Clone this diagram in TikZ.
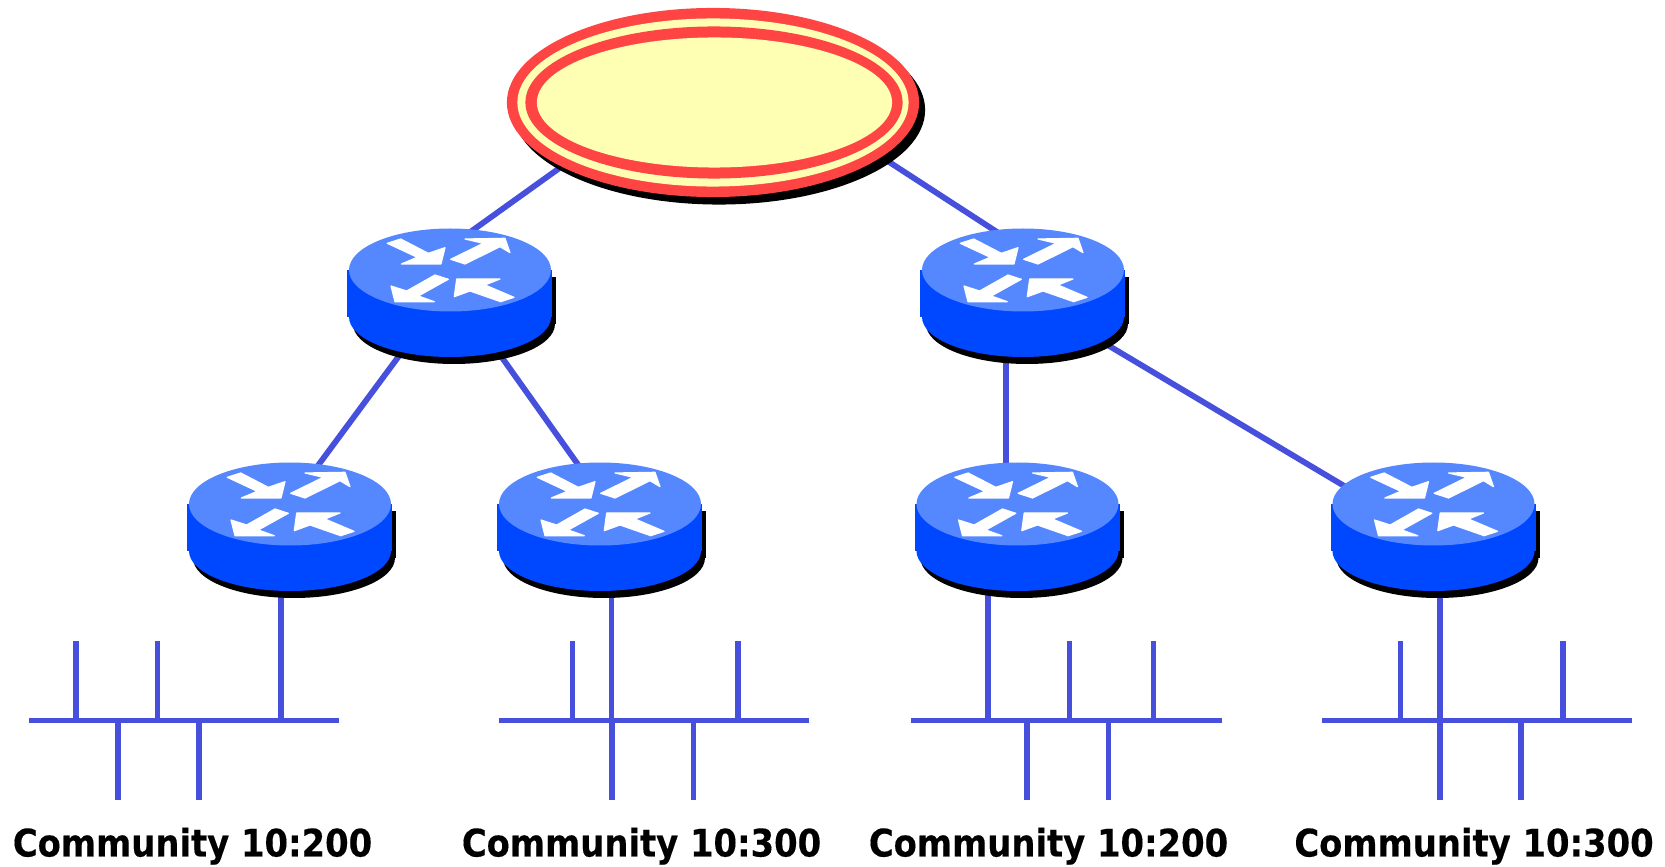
\documentclass[tikz,border=0pt]{standalone}
\usepackage{fontspec}
\setmainfont{DejaVu Sans}
\newfontfamily\labelfont{DejaVu Sans Bold}[FakeStretch=0.89,FakeBold=0.3]
\usetikzlibrary{shapes.geometric, backgrounds}

\definecolor{linkblue}{HTML}{4650DC}
\definecolor{routertop}{HTML}{5588FF}
\definecolor{routerside}{HTML}{0048FF}
\definecolor{corered}{HTML}{FF4444}
\definecolor{coreyellow}{HTML}{FFFFB3}

\tikzset{
  link/.style={linkblue,line width=0.058cm,shorten >=-3pt,shorten <=-3pt},
  stub/.style={linkblue,line width=0.058cm},
  coreoval/.style={ellipse,inner sep=0pt,minimum width=#1},
  routerbox/.style={ellipse,inner sep=0pt,minimum width=2.04cm,minimum height=1.29cm},
  bus/.style={rectangle,fill=linkblue,inner sep=0pt,minimum width=3.1cm,minimum height=0.058cm},
  arrowpoly/.style={fill=white,draw=white,line width=0.012cm,line join=round},
  label/.style={anchor=base,font=\labelfont\fontsize{10.8}{13}\selectfont},
  router/.pic={
    \fill[black] (-99,7) rectangle (106,54);
    \fill[black] (4,54) circle[x radius=101,y radius=40];
    \fill[routerside] (-103,0) rectangle (102,47);
    \fill[routerside] (0,47) circle[x radius=101,y radius=40];
    \fill[routertop] (0,0) circle[x radius=101,y radius=41.5];
    \path[arrowpoly] (-62.7,-26.7) -- (-49.3,-31) -- (-21.7,-16.7) -- (-5,-22.3) -- (-9,-6) -- (-48.7,-6) -- (-32.7,-12.7) -- cycle;
    \path[arrowpoly] (0.7,-10.7) -- (33.3,-26.7) -- (15,-31) -- (55,-31.7) -- (60,-17.3) -- (50,-23.3) -- (15,-6) -- cycle;
    \path[arrowpoly] (-15,5) -- (-1.7,9.3) -- (-31.7,26) -- (-15.7,31.7) -- (-55,31.7) -- (-59,16) -- (-43.3,21) -- cycle;
    \path[arrowpoly] (4.3,26.7) -- (6.7,9) -- (50,9) -- (35,15) -- (64,27.3) -- (50.7,31.7) -- (20,21) -- cycle;
    \node[routerbox] (-box) at (0,22.5) {};
  }
}

\begin{document}
\begin{tikzpicture}[x=0.01cm,y=-0.01cm]
\useasboundingbox (0,0) rectangle (1665,867);
% core
\node[coreoval=4.12cm,minimum height=1.89cm,fill=black] (coreShadow) at (719,110) {};
\node[coreoval=4.12cm,minimum height=1.89cm,fill=corered] (core) at (713,102.5) {};
\node[coreoval=3.91cm,minimum height=1.68cm,fill=coreyellow] (coreRing) at (713,102.5) {};
\node[coreoval=3.77cm,minimum height=1.52cm,fill=corered] (coreBand) at (714,102.5) {};
\node[coreoval=3.55cm,minimum height=1.30cm,fill=coreyellow] (coreInner) at (714.5,102.5) {};
% routers
\pic (rA) at (450,270) {router};
\pic (rB) at (1023,270) {router};
\pic (rC) at (290,504) {router};
\pic (rD) at (600,504) {router};
\pic (rE) at (1017.5,504) {router};
\pic (rF) at (1433.5,504) {router};
% buses
\node[bus] (lanA) at (184,720.5) {};
\node[bus] (lanB) at (654,720.5) {};
\node[bus] (lanC) at (1066.5,720.5) {};
\node[bus] (lanD) at (1477,720.5) {};
% taps
\coordinate (tapA1) at (76,641);
\coordinate (tapA2) at (157.5,641);
\coordinate (tapA3) at (118,800.5);
\coordinate (tapA4) at (199,800.5);
\coordinate (tapB1) at (572.5,641);
\coordinate (tapB2) at (738,641);
\coordinate (tapB3) at (612,800.5);
\coordinate (tapB4) at (693.5,800.5);
\coordinate (tapC1) at (1069.5,641);
\coordinate (tapC2) at (1153.5,641);
\coordinate (tapC3) at (1027,800.5);
\coordinate (tapC4) at (1108.5,800.5);
\coordinate (tapD1) at (1400.5,641);
\coordinate (tapD2) at (1563,641);
\coordinate (tapD3) at (1440,800.5);
\coordinate (tapD4) at (1521,800.5);
\begin{pgfonlayer}{background}
\draw[link] (core.203) -- (rA-box.69);
\draw[link] (core.-18) -- (rB-box.115);
\draw[link] (rA-box.231) -- (rC-box.65.5);
\draw[link] (rA-box.-51) -- (rD-box.110.5);
\draw[link] (rB-box.255.5) -- (rB-box.255.5 |- rE-box.north);
\draw[link] (rB-box.-32) -- (rF-box.156.5);
\end{pgfonlayer}
\draw[stub] (tapA1) -- (tapA1 |- lanA.center);
\draw[stub] (tapA2) -- (tapA2 |- lanA.center);
\draw[stub] (tapA3) -- (tapA3 |- lanA.center);
\draw[stub] (tapA4) -- (tapA4 |- lanA.center);
\draw[stub] (tapB1) -- (tapB1 |- lanB.center);
\draw[stub] (tapB2) -- (tapB2 |- lanB.center);
\draw[stub] (tapB3) -- (tapB3 |- lanB.center);
\draw[stub] (tapB4) -- (tapB4 |- lanB.center);
\draw[stub] (tapC1) -- (tapC1 |- lanC.center);
\draw[stub] (tapC2) -- (tapC2 |- lanC.center);
\draw[stub] (tapC3) -- (tapC3 |- lanC.center);
\draw[stub] (tapC4) -- (tapC4 |- lanC.center);
\draw[stub] (tapD1) -- (tapD1 |- lanD.center);
\draw[stub] (tapD2) -- (tapD2 |- lanD.center);
\draw[stub] (tapD3) -- (tapD3 |- lanD.center);
\draw[stub] (tapD4) -- (tapD4 |- lanD.center);
\begin{pgfonlayer}{background}
\draw[stub] (rC-box.262) -- (rC-box.262 |- lanA.center);
\draw[stub] (rD-box.280.5) -- (rD-box.280.5 |- tapB3);
\draw[stub] (rE-box.245) -- (rE-box.245 |- lanC.center);
\draw[stub] (rF-box.276) -- (rF-box.276 |- tapD3);
\end{pgfonlayer}
% labels
\node[label] (textA) at (192.5,856.5) {Community 10:200};
\node[label] (textB) at (641.5,856.5) {Community 10:300};
\node[label] (textC) at (1048.5,856.5) {Community 10:200};
\node[label] (textD) at (1474,856.5) {Community 10:300};
\end{tikzpicture}
\end{document}
